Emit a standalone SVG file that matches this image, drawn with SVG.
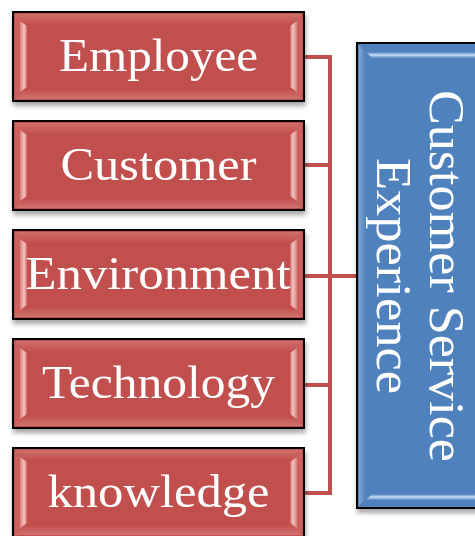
<svg xmlns="http://www.w3.org/2000/svg" width="475" height="536" viewBox="0 0 475 536">
<defs>
<filter id="sh" x="-10%" y="-10%" width="130%" height="130%">
<feGaussianBlur in="SourceAlpha" stdDeviation="2.5"/>
<feOffset dx="1" dy="4" result="b"/>
<feComponentTransfer><feFuncA type="linear" slope="0.35"/></feComponentTransfer>
<feMerge><feMergeNode/><feMergeNode in="SourceGraphic"/></feMerge>
</filter>
<linearGradient id="lbev" x1="0" y1="0" x2="1" y2="0">
<stop offset="0" stop-color="#d8807d"/>
<stop offset="0.6" stop-color="#f4c4c2"/>
<stop offset="1" stop-color="#d06a67"/>
</linearGradient>
<linearGradient id="rbev" x1="0" y1="0" x2="1" y2="0">
<stop offset="0" stop-color="#d06a67"/>
<stop offset="0.4" stop-color="#f4c4c2"/>
<stop offset="1" stop-color="#d8807d"/>
</linearGradient>
<linearGradient id="tbev" x1="0" y1="0" x2="0" y2="1">
<stop offset="0" stop-color="#cf6d6a"/>
<stop offset="1" stop-color="#c4524f"/>
</linearGradient>
<linearGradient id="bbev" x1="0" y1="0" x2="0" y2="1">
<stop offset="0" stop-color="#c4524f"/>
<stop offset="1" stop-color="#cf7370"/>
</linearGradient>
<linearGradient id="bluebev" x1="0" y1="0" x2="0" y2="1">
<stop offset="0" stop-color="#4f81bd"/>
<stop offset="0.5" stop-color="#c5dcf2"/>
<stop offset="1" stop-color="#5b8cc6"/>
</linearGradient>
<linearGradient id="blueleft" x1="0" y1="0" x2="1" y2="0">
<stop offset="0" stop-color="#7ea4d3"/>
<stop offset="1" stop-color="#4f81bd"/>
</linearGradient>
<g id="redbox">
<rect x="0" y="0" width="291" height="89" fill="#c0504d" stroke="#000" stroke-width="2"/>
<polygon points="2,2 289,2 281,12 10,12" fill="url(#tbev)"/>
<polygon points="2,87 289,87 281,78 10,78" fill="url(#bbev)"/>
<polygon points="2,2 10,12 10,78 2,87" fill="#cc605d"/>
<polygon points="289,2 281,12 281,78 289,87" fill="#cc605d"/>
<polygon points="7,9 14,14 14,75 7,80" fill="url(#lbev)"/>
<polygon points="284,9 277,14 277,75 284,80" fill="url(#rbev)"/>
</g>
</defs>
<style>
.lbl{font-family:"Liberation Serif","Times New Roman",serif;font-size:46px;fill:#fff;text-anchor:middle}
.big{font-family:"Liberation Serif","Times New Roman",serif;font-size:50px;fill:#fff;text-anchor:middle}
.conn{stroke:#c0504d;stroke-width:4;fill:none}
</style>
<rect width="475" height="536" fill="#fff"/>
<g id="connectors">
<path class="conn" d="M304,57 H330 M304,165 H330 M304,385 H330 M304,493 H330 M330,55 V495 M304,276 H358"/>
</g>
<g id="node-employee" filter="url(#sh)">
<use href="#redbox" x="13" y="12"/>
<text class="lbl" x="158.5" y="71" textLength="199" lengthAdjust="spacingAndGlyphs">Employee</text>
</g>
<g id="node-customer" filter="url(#sh)">
<use href="#redbox" x="13" y="121"/>
<text class="lbl" x="158.5" y="180" textLength="196" lengthAdjust="spacingAndGlyphs">Customer</text>
</g>
<g id="node-environment" filter="url(#sh)">
<use href="#redbox" x="13" y="230"/>
<text class="lbl" x="158" y="289" textLength="265" lengthAdjust="spacingAndGlyphs">Environment</text>
</g>
<g id="node-technology" filter="url(#sh)">
<use href="#redbox" x="13" y="339"/>
<text class="lbl" x="158.5" y="398" textLength="233" lengthAdjust="spacingAndGlyphs">Technology</text>
</g>
<g id="node-knowledge" filter="url(#sh)">
<use href="#redbox" x="13" y="448"/>
<text class="lbl" x="158.5" y="507" textLength="222" lengthAdjust="spacingAndGlyphs">knowledge</text>
</g>
<g id="node-cse" filter="url(#sh)">
<rect x="357" y="43" width="125" height="465" fill="#4f81bd" stroke="#000" stroke-width="2"/>
<polygon points="359,45 359,506 366,498 366,53" fill="url(#blueleft)"/>
<polygon points="366,52 480,52 480,58 372,58" fill="url(#bluebev)"/>
<polygon points="366,500 480,500 480,494 372,494" fill="url(#bluebev)"/>
<text class="big" transform="translate(430,276) rotate(90)" textLength="372" lengthAdjust="spacingAndGlyphs">Customer Service</text>
<text class="big" transform="translate(377,276) rotate(90)" textLength="236" lengthAdjust="spacingAndGlyphs">Experience</text>
</g>
</svg>
